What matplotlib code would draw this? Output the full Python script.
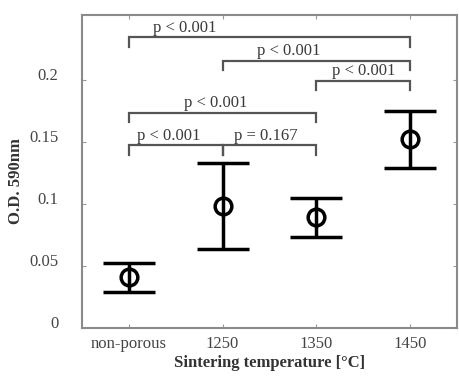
import matplotlib
matplotlib.use("Agg")
import matplotlib.pyplot as plt
import matplotlib.transforms as mtransforms

# data
groups = ["non-porous", "1250", "1350", "1450"]
means = [0.041, 0.098, 0.089, 0.152]
lower = [0.029, 0.064, 0.073, 0.129]
upper = [0.052, 0.133, 0.105, 0.175]

# significance brackets (group index pairs), bracket heights and labels
pairs = [(0, 3), (1, 3), (2, 3), (0, 2), (0, 1), (1, 2)]
heights = [0.234, 0.215, 0.199, 0.173, 0.147, 0.147]
pLabels = ["p < 0.001", "p < 0.001", "p < 0.001", "p < 0.001", "p < 0.001", "p = 0.167"]
labelFrac = [0.20, 0.355, 0.51, 0.465, 0.43, 0.46]

yticks = [0, 0.05, 0.1, 0.15, 0.2]
ytickLabels = ["0", "0.05", "0.1", "0.15", "0.2"]

plt.rcParams['font.family'] = 'Liberation Serif'
plt.rcParams['font.size'] = 12

fig = plt.figure(figsize=(4.59, 3.8), dpi=100)
ax = fig.add_axes([0.1786, 0.1368, 0.8170, 0.8237])

x = list(range(1, len(groups) + 1))
errLo = [m - l for m, l in zip(means, lower)]
errHi = [u - m for m, u in zip(means, upper)]
ax.errorbar(x, means, yerr=[errLo, errHi], fmt="o", color="black",
            markerfacecolor="none", markersize=12, markeredgewidth=2.5,
            elinewidth=2.5, capsize=18.5, capthick=2.5)

tickLen = 0.0075
bracketColor = "#555555"
for (i, j), h, lab, frac in zip(pairs, heights, pLabels, labelFrac):
    x1, x2 = x[i], x[j]
    ax.plot([x1, x1, x2, x2], [h - tickLen, h, h, h - tickLen],
            color=bracketColor, lw=1.6, solid_joinstyle="miter")
    ax.text(x1 + (x2 - x1) * frac, h + 0.0015, lab, ha="center", va="bottom",
            color="#3a3a3a", fontsize=12)

ax.set_xlim(0.5, 4.5)
ax.set_ylim(0, 0.252)
ax.set_xticks(x)
ax.set_xticklabels(groups, color="#444444")
ax.set_yticks(yticks)
ax.set_yticklabels(ytickLabels, color="#444444")
ax.tick_params(axis="both", direction="in", length=3, color="#999999",
               top=True, right=True)
ax.tick_params(axis="y", pad=17)
ax.tick_params(axis="x", pad=6)

# y tick labels sit slightly above their ticks in the reference
offset = mtransforms.ScaledTranslation(0, 6 / 100, fig.dpi_scale_trans)
for lbl in ax.get_yticklabels():
    lbl.set_transform(lbl.get_transform() + offset)

for s in ax.spines.values():
    s.set_color("#8a8a8a")
    s.set_linewidth(1.5)

ax.set_xlabel("Sintering temperature [°C]", fontweight="bold", color="#333333",
              labelpad=2)
ax.set_ylabel("O.D. 590nm", fontweight="bold", color="#333333")
ax.yaxis.set_label_coords(-0.155, 0.47)

fig.savefig("out.png", dpi=100)
